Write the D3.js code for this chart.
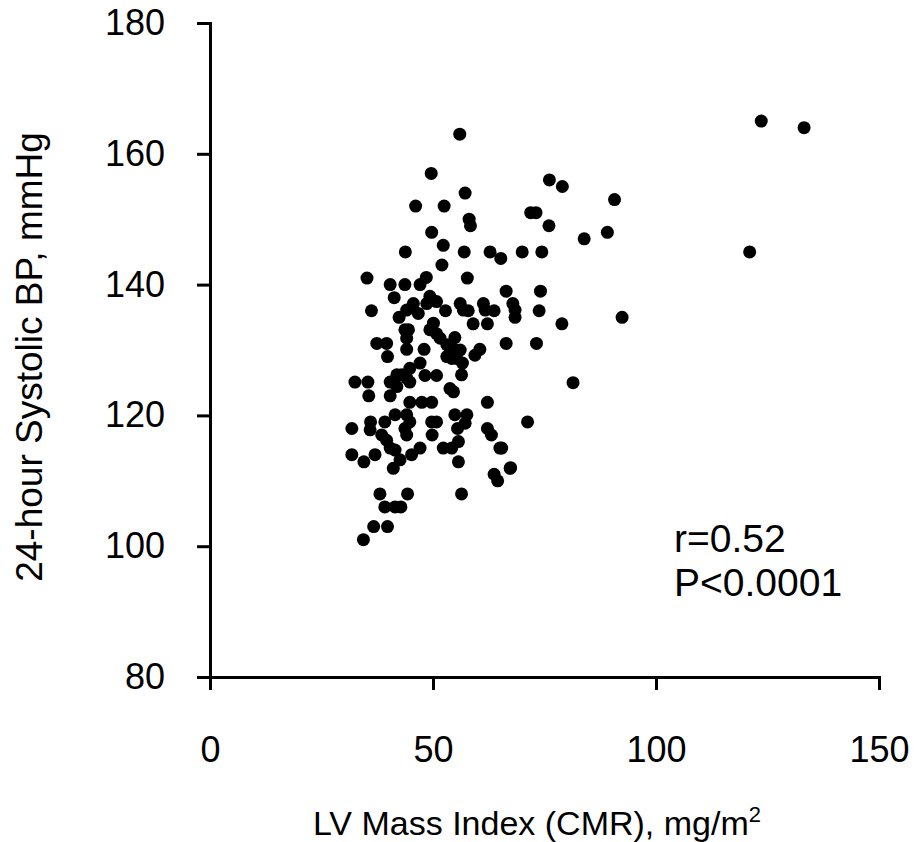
<!DOCTYPE html>
<html>
<head>
<meta charset="utf-8">
<script src="https://cdn.jsdelivr.net/npm/d3@7"></script>
<style>
  body { margin: 0; background: #fff; }
  svg { display: block; }
  text { font-family: "Liberation Sans", Arial, sans-serif; }
</style>
</head>
<body>
<script>
// LV mass index (CMR), mg/m2
var lvmi = [
  56.0, 49.6, 57.2, 46.1, 52.5, 58.1, 58.4, 49.7, 52.3, 43.8, 57.0, 62.8, 65.2, 70.0, 52.0,
  76.1, 79.0, 90.7, 71.9, 73.1, 76.0, 83.9, 89.1, 74.4,
  123.6, 133.2, 121.0,
  66.4, 74.1, 67.9, 68.4, 68.4, 73.8, 78.9, 92.4, 66.4, 73.2, 81.4, 71.2, 65.4, 67.4,
  35.2, 48.5, 47.1, 57.7, 40.4, 43.7, 41.3, 49.3, 50.8, 45.6, 44.1, 42.4, 36.2, 46.7, 48.6, 52.8,
  56.1, 56.8, 57.9, 61.3, 61.7, 63.7, 59.0, 62.2, 50.1, 49.3, 43.7, 44.5, 50.8, 51.6, 44.1, 54.9,
  37.4, 39.6, 53.1, 54.2, 54.9, 56.1, 39.8, 44.1, 48.0, 60.5, 59.4, 53.1, 54.2, 55.3, 56.6, 47.1,
  44.8, 41.9, 43.0, 44.1, 48.2, 50.8, 56.4, 32.5, 35.4, 40.4, 41.9, 44.8, 53.8, 54.6, 35.6, 40.4,
  44.8, 47.5, 49.7, 62.2,
  41.5, 44.1, 54.9, 57.6, 36.0, 39.2, 44.8, 49.7, 50.8, 55.5, 57.2, 31.8, 35.9, 43.7, 62.2, 63.1,
  38.5, 39.6, 44.1, 49.8, 55.7, 40.4, 41.5, 47.1, 52.3, 54.2, 65.0, 31.8, 37.0, 45.2, 42.6, 34.5,
  55.7, 41.1, 67.3, 63.7, 64.5, 38.1, 44.3, 56.4, 39.2, 41.5, 42.8, 36.7, 39.8, 34.4
];
// 24-hour systolic BP, mmHg
var sbp = [
  163, 157, 154, 152, 152, 150, 149, 148, 146, 145, 145, 145, 144, 145, 143,
  156, 155, 153, 151, 151, 149, 147, 148, 145,
  165, 164, 145,
  139, 139, 137.1, 136.1, 135, 136, 134, 135, 131, 131, 125, 119, 115, 112,
  141, 141.1, 140, 141, 140, 140, 138, 138.2, 137.4, 137.1, 136.1, 135, 136, 135.6, 137.1, 136,
  137.1, 136.1, 136, 137.1, 136.1, 136, 134, 134, 134.1, 133.1, 133.1, 133.1, 132.5, 131.8, 131.8, 131.9,
  131, 131, 130.8, 130.4, 130, 130, 129, 130.1, 130.1, 130.1, 129.2, 129, 128.7, 128.7, 128, 128,
  127.2, 126.2, 126.2, 125.7, 126.1, 126.1, 126.2, 125.1, 125.1, 125.1, 124.4, 125.1, 124.1, 123.6, 123, 123,
  122, 122, 122, 122,
  120.1, 120.1, 120.1, 120.1, 119, 119, 119, 119, 119, 118, 118.8, 118, 117.8, 118, 118, 117,
  117, 116.2, 117, 117, 116, 115, 114.7, 115, 115, 115, 115, 114, 114, 114, 113.2, 112.9,
  112.9, 111.9, 111.9, 111, 110, 108, 108, 108, 106, 106, 106, 103, 103, 101
];
var xTicks = [0, 50, 100, 150];
var yTicks = [80, 100, 120, 140, 160, 180];

var width = 924,
    height = 842;

var svg = d3.select("body").append("svg")
    .attr("width", width)
    .attr("height", height);

var x = d3.scaleLinear().domain([0, 150]).range([210, 879]);
var y = d3.scaleLinear().domain([80, 180]).range([677, 23]);

var xAxis = svg.append("g")
    .attr("transform", "translate(0," + y(80) + ")")
    .call(d3.axisBottom(x).tickValues(xTicks).tickSize(13).tickSizeOuter(0).tickPadding(46));

var yAxis = svg.append("g")
    .attr("transform", "translate(" + x(0) + ",0)")
    .call(d3.axisLeft(y).tickValues(yTicks).tickSize(13).tickSizeOuter(0).tickPadding(32));

[xAxis, yAxis].forEach(function(g) {
  g.attr("font-size", null).attr("font-family", null);
  g.select(".domain").attr("stroke", "#000").attr("stroke-width", 3).attr("stroke-linecap", "square");
  g.selectAll(".tick line").attr("stroke", "#000").attr("stroke-width", 3);
  g.selectAll(".tick text").attr("fill", "#000")
    .style("font-family", "'Liberation Sans', Arial, sans-serif")
    .style("font-size", "36px");
});

svg.append("g")
  .selectAll("circle")
  .data(lvmi)
  .enter().append("circle")
    .attr("cx", function(d) { return x(d); })
    .attr("cy", function(d, i) { return y(sbp[i]); })
    .attr("r", 6.5)
    .attr("fill", "#000");

var xTitle = svg.append("text")
    .attr("x", 537)
    .attr("y", 835)
    .attr("text-anchor", "middle")
    .style("font-size", "34px");
xTitle.append("tspan").text("LV Mass Index (CMR), mg/m");
xTitle.append("tspan").attr("dy", -13).style("font-size", "22px").text("2");

svg.append("text")
    .attr("transform", "translate(42,357) rotate(-90)")
    .attr("text-anchor", "middle")
    .style("font-size", "37px")
    .text("24-hour Systolic BP, mmHg");

svg.append("text")
    .attr("x", 674)
    .attr("y", 552)
    .style("font-size", "39px")
    .text("r=0.52");

svg.append("text")
    .attr("x", 674)
    .attr("y", 596)
    .style("font-size", "39px")
    .text("P<0.0001");
</script>
</body>
</html>
